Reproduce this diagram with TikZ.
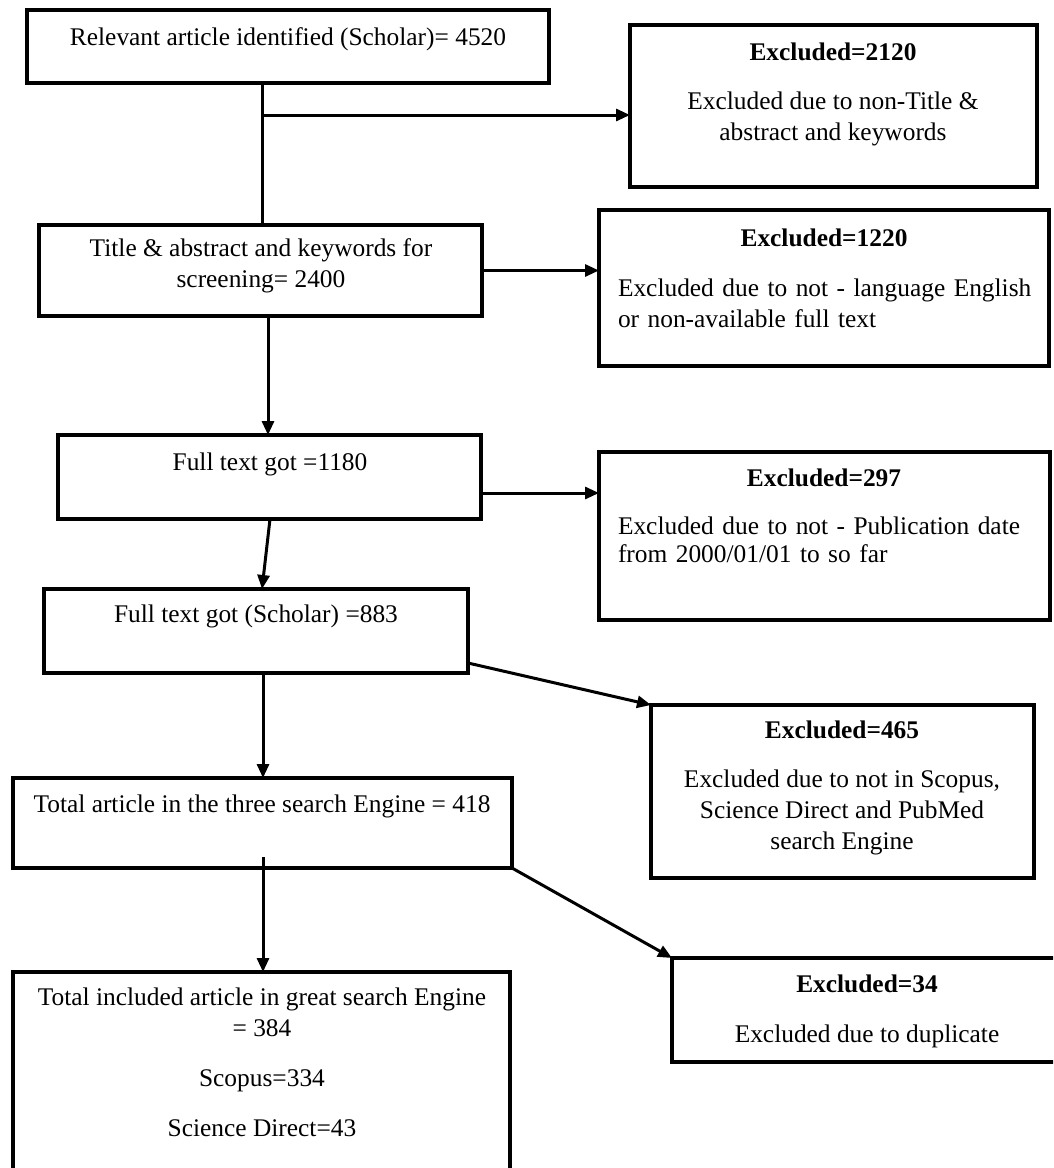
\documentclass[tikz,border=0pt]{standalone}
\usepackage{fontspec}
\setmainfont{Liberation Serif}
\usetikzlibrary{arrows.meta,calc}
\begin{document}
\begin{tikzpicture}[x=1pt,y=-1pt,
  box/.style={draw=black, line width=3.5pt, rectangle, inner sep=0pt, outer sep=0pt, anchor=north west},
  txt/.style={inner sep=0pt, outer sep=0pt, font=\fontsize{25.4}{31}\selectfont, anchor=base, align=center},
  hd/.style={txt, font=\fontsize{25.4}{31}\selectfont\bfseries},
  jtxt/.style={inner sep=0pt, outer sep=0pt, font=\fontsize{25.4}{31}\selectfont, anchor=base west, text width=412pt, align=left},
  conn/.style={line width=3pt, draw=black},
  arr/.style={conn, -{Triangle[length=14pt,width=12pt]}},
]
\clip (0,0) rectangle (1053,1168);
\fill[white] (0,0) rectangle (1053,1168);

% main column boxes
\node[box, minimum width=522pt, minimum height=73pt]  (A) at (27,10)   {};
\node[box, minimum width=443pt, minimum height=91pt]  (B) at (39,225)  {};
\node[box, minimum width=423pt, minimum height=84pt]  (C) at (58,435)  {};
\node[box, minimum width=424pt, minimum height=84pt]  (D) at (44,589)  {};
\node[box, minimum width=499pt, minimum height=90pt]  (E) at (13,778)  {};
\node[box, minimum width=497pt, minimum height=220pt] (F) at (13,972)  {};

% exclusion boxes
\node[box, minimum width=407pt, minimum height=162pt] (X1) at (630,25)  {};
\node[box, minimum width=450pt, minimum height=156pt] (X2) at (599,210) {};
\node[box, minimum width=451pt, minimum height=168pt] (X3) at (599,452) {};
\node[box, minimum width=383pt, minimum height=173pt] (X4) at (651,705) {};
\node[box, minimum width=390pt, minimum height=104pt] (X5) at (672,958) {};

% texts (centred nodes: anchor = baseline of the last line)
\node[txt] (tA) at (288,45)  {Relevant article identified (Scholar)= 4520};
\node[txt] (tB) at (261,287) {Title \& abstract and keywords for\\screening= 2400};
\node[txt] (tC) at (270,470) {Full text got =1180};
\node[txt] (tD) at (256,622) {Full text got (Scholar) =883};
\node[txt] (tE) at (262,812) {Total article in the three search Engine = 418};
\node[txt] (tF) at (262,1136) {Total included article in great search Engine\\= 384\\[19pt]Scopus=334\\[19pt]Science Direct=43};

\node[hd]  (hX1) at (833,60)  {Excluded=2120};
\node[txt] (bX1) at (833,140) {Excluded due to non-Title \&\\abstract and keywords};
\node[hd]  (hX2) at (824,246) {Excluded=1220};
\node[jtxt] (bX2) at (618,296) {\makebox[412pt][s]{Excluded due to not - language English}\\or non-available full text};
\node[hd]  (hX3) at (824,486) {Excluded=297};
\node[jtxt, font=\fontsize{25.4}{28}\selectfont] (bX3) at (618,534) {\makebox[412pt][s]{Excluded due to not - Publication date}\\from 2000/01/01 to so far};
\node[hd]  (hX4) at (842,738) {Excluded=465};
\node[txt] (bX4) at (842,849) {Excluded due to not in Scopus,\\Science Direct and PubMed\\search Engine};
\node[hd]  (hX5) at (867,992) {Excluded=34};
\node[txt] (bX5) at (867,1042) {Excluded due to duplicate};

% connectors
\coordinate (aS) at ([xshift=235pt]A.south west);
\coordinate (j1) at ([xshift=235pt,yshift=-32pt]A.south west);
\draw[conn] (aS) -- (aS |- B.north);
\draw[arr] (j1) -- (j1 -| X1.west);
\draw[arr] (B.east) -- (B.east -| X2.west);
\coordinate (bS) at ([xshift=229pt]B.south west);
\draw[arr] (bS) -- (bS |- C.north);
\coordinate (cR) at ([yshift=-16pt]C.east);
\draw[arr] (cR) -- (cR -| X3.west);
\draw[arr] ([xshift=212pt]C.south west) -- ([xshift=218pt]D.north west);
\draw[arr] ([yshift=10pt]D.south east) -- (X4.north west);
\coordinate (dS) at ([xshift=219pt]D.south west);
\draw[arr] (dS) -- (dS |- E.north);
\draw[arr] (E.south east) -- (X5.north west);
\coordinate (eS) at ([xshift=250pt,yshift=11pt]E.south west);
\draw[arr] (eS) -- (eS |- F.north);
\end{tikzpicture}
\end{document}
